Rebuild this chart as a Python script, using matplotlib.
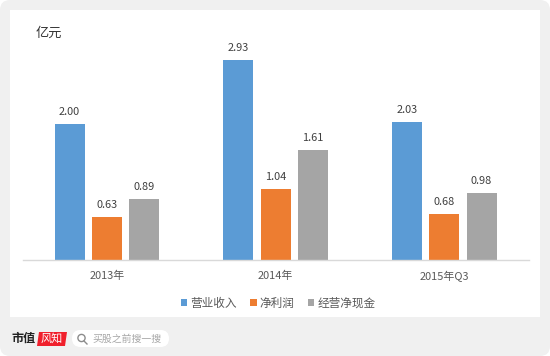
import matplotlib
matplotlib.use('Agg')
import matplotlib.pyplot as plt
import numpy as np
from matplotlib.patches import FancyBboxPatch, Rectangle, Circle, Polygon
from matplotlib.lines import Line2D

plt.rcParams['font.family'] = ['Noto Sans CJK SC', 'DejaVu Sans']

# values in 亿元
periods = ['2013年', '2014年', '2015年Q3']
revenue = [2.00, 2.93, 2.03]
profit = [0.63, 1.04, 0.68]
cash = [0.89, 1.61, 0.98]
names = ['营业收入', '净利润', '经营净现金']
colors = ['#5B9BD5', '#ED7D31', '#A5A5A5']

W, H = 550, 356
fig = plt.figure(figsize=(W / 100, H / 100), dpi=100, facecolor='white')

# page layer in pixel coordinates, y going down
bg = fig.add_axes([0, 0, 1, 1])
bg.set_xlim(0, W)
bg.set_ylim(H, 0)
bg.axis('off')
bg.add_patch(FancyBboxPatch((0, 0), W, H, boxstyle='round,pad=0,rounding_size=10',
                            fc='#F0F0F0', ec='none'))
bg.add_patch(Rectangle((10, 10), 530, 307, fc='white', ec='none'))

# chart
ax = fig.add_axes([22.6 / W, 1 - 260 / H, 506 / W, 210 / H])
ax.patch.set_alpha(0)
x = np.arange(len(periods))
width = 0.178
step = 0.221
for i, vals in enumerate([revenue, profit, cash]):
    bars = ax.bar(x + (i - 1) * step, vals, width, color=colors[i], label=names[i])
    for b, v in zip(bars, vals):
        ax.text(b.get_x() + b.get_width() / 2, v + 0.1, '%.2f' % v, ha='center', va='bottom',
                fontsize=7.9, color='#404040')
ax.set_xlim(-0.5, 2.5)
ax.set_ylim(0, 210 / 68.2)
ax.set_yticks([])
ax.set_xticks(x)
ax.set_xticklabels(periods, fontsize=7.9, color='#595959')
ax.tick_params(axis='x', length=0, pad=8)
for s in ['top', 'left', 'right']:
    ax.spines[s].set_visible(False)
ax.spines['bottom'].set_color('#D9D9D9')
ax.spines['bottom'].set_linewidth(1)

# unit label and legend
bg.text(35.5, 33, '亿元', fontsize=9.5, color='#333333', va='center', ha='left')
leg = ax.legend(loc='center', bbox_to_anchor=((278 - 22.6) / 506, -43 / 210), ncol=3, frameon=False,
                prop={'size': 8.4}, labelcolor='#595959', handlelength=0.56, handleheight=0.56,
                handletextpad=0.25, columnspacing=1.15, borderpad=0)

# footer: logo and search box
bg.text(11, 338.5, '市值', fontsize=8.7, fontweight='bold', color='#222222', va='center', ha='left')
bg.add_patch(Polygon([(39, 332), (67, 332), (65, 346), (37, 346)], fc='#F0202C', ec='none'))
bg.text(52, 338.5, '风知', fontsize=8, color='white', va='center', ha='center')
bg.add_patch(FancyBboxPatch((72, 330), 97, 17, boxstyle='round,pad=0,rounding_size=8.5',
                            fc='white', ec='none'))
bg.add_patch(Circle((81.5, 338), 3.6, fc='none', ec='#8C8C8C', lw=1))
bg.add_line(Line2D([84, 87], [341, 344], color='#8C8C8C', lw=1))
bg.text(92, 338.5, '买股之前搜一搜', fontsize=7.1, color='#A6A6A6', va='center', ha='left')

fig.savefig('out.png', dpi=100)
